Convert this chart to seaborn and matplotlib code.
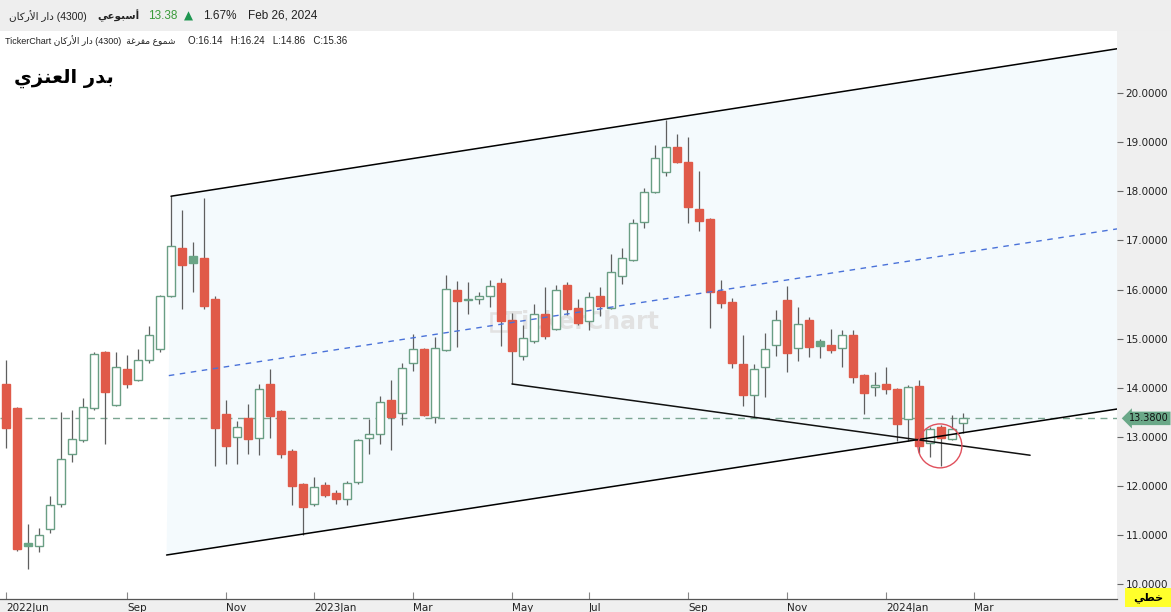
import numpy as np
import pandas as pd
import matplotlib
matplotlib.use("Agg")
import matplotlib.pyplot as plt
import matplotlib.transforms as mtransforms
from matplotlib.patches import Polygon, Rectangle
import seaborn as sns

# ---------------- data ----------------
opens = [14.08, 13.59, 10.84, 10.78, 11.13, 11.64, 12.66, 12.94, 13.59, 14.73,
         13.65, 14.38, 14.16, 14.57, 14.79, 15.87, 16.85, 16.68, 16.64, 15.81,
         13.47, 13.00, 13.39, 12.98, 14.08, 13.53, 12.72, 12.04, 11.64, 12.02,
         11.86, 11.74, 12.09, 12.98, 13.06, 13.75, 13.49, 14.51, 14.79, 13.41,
         14.77, 15.99, 15.78, 15.81, 15.87, 16.14, 15.38, 14.65, 14.95, 15.50,
         15.20, 16.09, 15.63, 15.36, 15.87, 15.63, 16.28, 16.60, 17.38, 17.99,
         18.39, 18.90, 18.60, 17.64, 17.44, 15.97, 15.75, 14.49, 13.86, 14.43,
         14.87, 15.79, 14.81, 15.38, 14.95, 14.87, 14.81, 15.08, 14.26, 14.02,
         14.08, 13.98, 13.37, 14.04, 12.88, 13.20, 12.96, 13.29]
highs = [14.57, 13.61, 11.23, 11.15, 11.80, 13.51, 13.55, 13.79, 14.73, 14.76,
         14.73, 14.67, 14.79, 15.25, 15.89, 17.90, 17.62, 16.97, 17.86, 15.87,
         13.75, 13.33, 13.67, 14.08, 14.38, 13.55, 12.75, 12.06, 12.19, 12.09,
         11.92, 12.11, 12.96, 13.37, 13.84, 14.16, 14.51, 15.10, 14.81, 15.04,
         16.30, 16.17, 16.15, 15.95, 16.20, 16.24, 15.52, 15.28, 15.71, 16.05,
         16.09, 16.15, 15.81, 15.95, 16.05, 16.72, 16.85, 17.44, 18.07, 18.94,
         19.45, 19.17, 19.10, 18.41, 17.46, 16.20, 15.83, 15.08, 14.49, 15.12,
         15.58, 16.07, 15.65, 15.44, 14.99, 15.20, 15.18, 15.18, 14.28, 14.32,
         14.43, 14.00, 14.06, 14.16, 13.20, 13.25, 13.45, 13.49]
lows = [12.78, 10.68, 10.32, 10.66, 11.05, 11.58, 12.49, 12.90, 13.55, 12.86,
        13.63, 14.00, 14.14, 14.50, 14.73, 15.85, 15.61, 15.95, 15.61, 12.41,
        12.45, 12.45, 12.66, 12.63, 12.98, 12.57, 11.62, 11.01, 11.60, 11.78,
        11.64, 11.62, 12.05, 12.66, 12.86, 12.74, 13.25, 14.34, 13.43, 13.29,
        14.75, 14.83, 15.50, 15.71, 15.65, 14.86, 14.08, 14.57, 14.91, 15.00,
        15.18, 15.48, 15.28, 15.18, 15.46, 15.60, 16.11, 16.58, 17.25, 17.97,
        18.31, 18.58, 17.36, 17.19, 15.22, 15.63, 14.40, 13.63, 13.41, 13.81,
        14.65, 14.32, 14.55, 14.63, 14.61, 14.71, 14.43, 14.10, 13.47, 13.84,
        13.88, 12.92, 12.92, 12.68, 12.59, 12.41, 12.94, 13.08]
closes = [13.18, 10.72, 10.78, 11.01, 11.62, 12.55, 12.96, 13.61, 14.69, 13.92,
          14.43, 14.08, 14.57, 15.08, 15.87, 16.89, 16.50, 16.54, 15.67, 13.18,
          12.82, 13.20, 12.96, 13.98, 13.43, 12.66, 12.00, 11.58, 11.98, 11.82,
          11.74, 12.07, 12.94, 13.06, 13.71, 13.41, 14.40, 14.79, 13.45, 14.81,
          16.01, 15.77, 15.80, 15.87, 16.07, 15.36, 14.75, 15.02, 15.50, 15.06,
          15.99, 15.61, 15.32, 15.85, 15.67, 16.36, 16.64, 17.36, 17.99, 18.68,
          18.90, 18.60, 17.68, 17.40, 15.95, 15.73, 14.51, 13.86, 14.38, 14.79,
          15.38, 14.71, 15.30, 14.83, 14.85, 14.77, 15.08, 14.22, 13.90, 14.06,
          13.98, 13.27, 14.02, 12.82, 13.16, 12.98, 13.16, 13.38]

tick_idx = [0, 11, 20, 28, 37, 46, 53, 62, 71, 80, 88]
tick_labels = ["2022Jun", "Sep", "Nov", "2023Jan", "Mar", "May", "Jul", "Sep", "Nov", "2024Jan", "Mar"]
price_ticks = [10, 11, 12, 13, 14, 15, 16, 17, 18, 19, 20]

# channel (start/end anchors: candle index, price)
chan_upper_x = [15.0, 101.0]
chan_upper_y = [17.90, 20.90]
chan_lower_x = [14.6, 101.0]
chan_lower_y = [10.60, 13.57]
trend_x = [46.0, 93.1]
trend_y = [14.08, 12.63]
circle_x = [84.9]
circle_y = [12.82]

symbol_name = "دار الأركان"
symbol_code = "(4300)"
period_name = "أسبوعي"
chart_type = "شموع مفرغة"
author = "بدر العنزي"
scale_name = "خطي"
date_label = "Feb 26, 2024"
cursor_idx = 45

# ---------------- Arabic shaping (presentation forms, visual order) ----------------
FORMS = {
    'ا': ('\uFE8D', '\uFE8E', None, None), 'أ': ('\uFE83', '\uFE84', None, None),
    'ب': ('\uFE8F', '\uFE90', '\uFE91', '\uFE92'), 'ة': ('\uFE93', '\uFE94', None, None),
    'خ': ('\uFEA5', '\uFEA6', '\uFEA7', '\uFEA8'), 'د': ('\uFEA9', '\uFEAA', None, None),
    'ر': ('\uFEAD', '\uFEAE', None, None), 'ز': ('\uFEAF', '\uFEB0', None, None),
    'س': ('\uFEB1', '\uFEB2', '\uFEB3', '\uFEB4'), 'ش': ('\uFEB5', '\uFEB6', '\uFEB7', '\uFEB8'),
    'ط': ('\uFEC1', '\uFEC2', '\uFEC3', '\uFEC4'), 'ع': ('\uFEC9', '\uFECA', '\uFECB', '\uFECC'),
    'غ': ('\uFECD', '\uFECE', '\uFECF', '\uFED0'), 'ف': ('\uFED1', '\uFED2', '\uFED3', '\uFED4'),
    'ك': ('\uFED9', '\uFEDA', '\uFEDB', '\uFEDC'), 'ل': ('\uFEDD', '\uFEDE', '\uFEDF', '\uFEE0'),
    'م': ('\uFEE1', '\uFEE2', '\uFEE3', '\uFEE4'), 'ن': ('\uFEE5', '\uFEE6', '\uFEE7', '\uFEE8'),
    'و': ('\uFEED', '\uFEEE', None, None), 'ي': ('\uFEF1', '\uFEF2', '\uFEF3', '\uFEF4'),
}
LAM_ALEF = {'ا': ('\uFEFB', '\uFEFC'), 'أ': ('\uFEF7', '\uFEF8')}


def _shape_word(word):
    toks = []
    i = 0
    while i < len(word):
        ch = word[i]
        if ch == 'ل' and i + 1 < len(word) and word[i + 1] in LAM_ALEF:
            toks.append(('LA', word[i + 1]))
            i += 2
        else:
            toks.append(('C', ch))
            i += 1

    def joins_next(t):
        if t is None or t[0] == 'LA':
            return False
        f = FORMS.get(t[1])
        return f is not None and f[2] is not None

    def joins_prev(t):
        return t is not None and (t[0] == 'LA' or t[1] in FORMS)

    out = []
    for k, t in enumerate(toks):
        prev = toks[k - 1] if k > 0 else None
        nxt = toks[k + 1] if k + 1 < len(toks) else None
        jp = joins_next(prev) and joins_prev(t)
        if t[0] == 'LA':
            out.append(LAM_ALEF[t[1]][1 if jp else 0])
            continue
        f = FORMS.get(t[1])
        if f is None:
            out.append(t[1])
            continue
        jn = f[2] is not None and joins_prev(nxt)
        if jp and jn:
            g = f[3]
        elif jp:
            g = f[1]
        elif jn:
            g = f[2]
        else:
            g = f[0]
        out.append(g)
    return ''.join(reversed(out))


def ar(text):
    return ' '.join(_shape_word(w) for w in reversed(text.split(' ')))


# ---------------- figure ----------------
sns.set_theme(style="white")
plt.rcParams['font.family'] = ['DejaVu Sans']

W, H = 1171, 612
fig = plt.figure(figsize=(W / 100, H / 100), dpi=100)
fig.patch.set_facecolor('white')

top_px, bot_px, right_px = 31, 599, 1117
ax = fig.add_axes([0, (H - bot_px) / H, right_px / W, (bot_px - top_px) / H])
ax.set_facecolor('white')

df = pd.DataFrame({'open': opens, 'high': highs, 'low': lows, 'close': closes})
df['idx'] = np.arange(len(df))
df['prev'] = df['close'].shift(1)
df['up'] = df['close'] > df['prev']
df['hollow'] = df['close'] >= df['open']

GREEN = '#6a9e84'
GREEN_FILL = '#6aa586'
RED = '#e05a49'
WICK = '#5f5f5f'

# channel fill
pts = [(chan_upper_x[0], chan_upper_y[0]), (chan_upper_x[1], chan_upper_y[1]),
       (chan_lower_x[1], chan_lower_y[1]), (chan_lower_x[0], chan_lower_y[0])]
ax.add_patch(Polygon(pts, closed=True, facecolor='#f4fafd', edgecolor='none', zorder=0))

# watermark
ax.text(0.522, 0.487, "TickerChart", transform=ax.transAxes, ha='center', va='center',
        fontsize=17, fontweight='bold', color='#e2e2e2', zorder=0.5)
ax.add_patch(Rectangle((0.440, 0.472), 0.015, 0.032, transform=ax.transAxes,
                       facecolor='none', edgecolor='#e2e2e2', lw=1.8, zorder=0.5))

# wicks (not through hollow bodies)
body_top = df[['open', 'close']].max(axis=1)
body_bot = df[['open', 'close']].min(axis=1)
ax.vlines(df['idx'], body_top, df['high'], color=WICK, lw=0.9, zorder=2)
ax.vlines(df['idx'], df['low'], body_bot, color=WICK, lw=0.9, zorder=2)

# bodies
heights = (body_top - body_bot).clip(lower=0.015)
fc = []
ec = []
for up, hol in zip(df['up'], df['hollow']):
    if hol and up:
        fc.append('white'); ec.append(GREEN)
    elif hol:
        fc.append('white'); ec.append(RED)
    else:
        fc.append(GREEN_FILL if up else RED); ec.append(GREEN_FILL if up else RED)
ax.bar(df['idx'], heights, bottom=body_bot, width=0.7, color=fc, edgecolor=ec,
       linewidth=1.0, zorder=3)

# channel lines
sns.lineplot(x=chan_upper_x, y=chan_upper_y, ax=ax, color='black', lw=1.1, zorder=4)
sns.lineplot(x=chan_lower_x, y=chan_lower_y, ax=ax, color='black', lw=1.1, zorder=4)
mid_x = [(a + b) / 2 for a, b in zip(chan_upper_x, chan_lower_x)]
mid_y = [(a + b) / 2 for a, b in zip(chan_upper_y, chan_lower_y)]
ax.plot(mid_x, mid_y, color='#4a72d9', lw=1.0, ls=(0, (4, 4)), zorder=4)
sns.lineplot(x=trend_x, y=trend_y, ax=ax, color='#111111', lw=1.1, zorder=4)

last_close = closes[-1]
ax.axhline(last_close, color='#7ba592', lw=1.0, ls=(0, (5, 4)), zorder=1)

# red circle
ax.scatter(circle_x, circle_y, s=1000, facecolors='none', edgecolors='#e0505c',
           linewidths=1.0, zorder=5)

# axes formatting
ax.set_xlim(-0.545, (right_px - 6) / 11)
ax.set_ylim(20 - (bot_px - 93) / 49.15, 20 + (93 - top_px) / 49.15)
ax.yaxis.tick_right()
ax.set_yticks(price_ticks)
ax.set_yticklabels([f"{v:.4f}" for v in price_ticks])
ax.tick_params(axis='y', direction='out', length=4, width=0.8, color='#666666',
               pad=2, labelsize=7.5, labelcolor='#222222', right=True, left=False)
ax.set_xticks(tick_idx)
ax.set_xticklabels(tick_labels, ha='left')
ax.tick_params(axis='x', direction='in', length=5, width=0.8, color='#888888',
               pad=3, labelsize=7.5, labelcolor='#222222', bottom=True)
for lab in ax.get_xticklabels():
    lab.set_horizontalalignment('left')
for s in ['top', 'left', 'right']:
    ax.spines[s].set_visible(False)
ax.spines['bottom'].set_color('#555555')
ax.spines['bottom'].set_linewidth(0.9)
ax.grid(False)

# panels
fig.add_artist(Rectangle((right_px / W, 0), 1 - right_px / W, 1, transform=fig.transFigure,
                         facecolor='#efefef', edgecolor='none', zorder=-1))
fig.add_artist(Rectangle((0, 0), 1, (H - bot_px) / H, transform=fig.transFigure,
                         facecolor='#efefef', edgecolor='none', zorder=-1))
fig.add_artist(Rectangle((0, (H - top_px) / H), 1, top_px / H, transform=fig.transFigure,
                         facecolor='#eeeeee', edgecolor='none', zorder=-1))

# price tag
tr = mtransforms.blended_transform_factory(fig.transFigure, ax.transData)
ax.text(1129 / W, last_close, f"{last_close:.4f}", transform=tr, ha='left', va='center',
        fontsize=7, color='#111111', clip_on=False, zorder=6,
        bbox=dict(boxstyle='larrow,pad=0.18', fc='#6aa888', ec='none'))

# yellow scale box
fig.add_artist(Rectangle((1125 / W, (H - 607) / H), 46 / W, 19 / H, transform=fig.transFigure,
                         facecolor='#ffff2b', edgecolor='none', zorder=5))
fig.text(1148 / W, 1 - 598 / H, ar(scale_name), ha='center', va='center', fontsize=8,
         fontweight='bold', color='black', zorder=6)


def fx(px):
    return px / W


def fy(py):
    return 1 - py / H


pct = (closes[-1] / closes[-2] - 1) * 100
hdr = ['Liberation Sans', 'DejaVu Sans']
fig.text(fx(9), fy(16), ar(symbol_name) + " " + symbol_code, ha='left', va='center',
         fontsize=7.5, family=hdr, color='#222222')
fig.text(fx(97), fy(16), ar(period_name), ha='left', va='center', fontsize=7.5,
         fontweight='bold', family=hdr, color='#222222')
fig.text(fx(148), fy(16), f"{closes[-1]:.2f}", ha='left', va='center', fontsize=8.5,
         family=hdr, color='#3a9a3a')
fig.text(fx(184), fy(16), "▲", ha='left', va='center', fontsize=8.5,
         family=['DejaVu Sans'], color='#1e9650')
fig.text(fx(203), fy(16), f"{pct:.2f}%", ha='left', va='center', fontsize=8.5,
         family=hdr, color='#222222')
fig.text(fx(248), fy(16), date_label, ha='left', va='center', fontsize=8.5,
         family=hdr, color='#222222')

fig.text(fx(5), fy(41), "TickerChart " + ar(symbol_name) + " " + symbol_code + "  " + ar(chart_type),
         ha='left', va='center', fontsize=6.5, family=hdr, color='#222222')
fig.text(fx(188), fy(41),
         f"O:{opens[cursor_idx]:.2f}   H:{highs[cursor_idx]:.2f}   L:{lows[cursor_idx]:.2f}   C:{closes[cursor_idx]:.2f}",
         ha='left', va='center', fontsize=7, family=hdr, color='#222222')

fig.text(fx(14), fy(78), ar(author), ha='left', va='center', fontsize=14,
         fontweight='bold', family=['DejaVu Sans'], color='black')

fig.savefig("out.png", dpi=100)
